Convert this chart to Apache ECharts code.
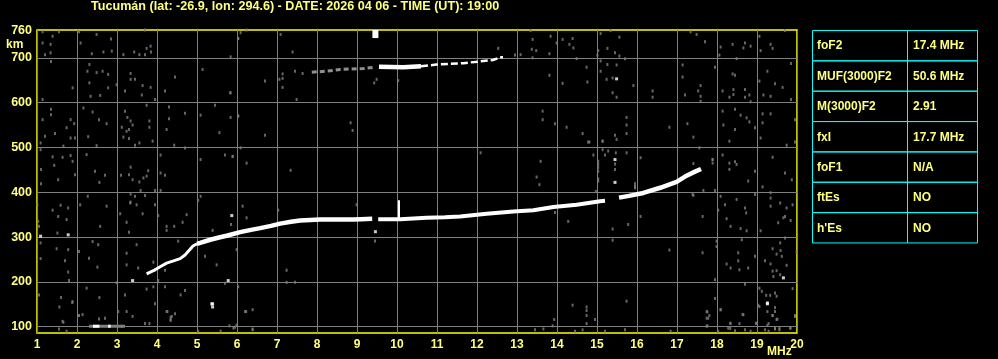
<!DOCTYPE html>
<html><head><meta charset="utf-8">
<script src="https://cdn.jsdelivr.net/npm/echarts@6/dist/echarts.min.js"></script>
<style>html,body{margin:0;padding:0;background:#000;}#c{width:998px;height:359px;}</style>
</head><body><div id="c"></div>
<script>
const titleText = 'Tucumán (lat: -26.9, lon: 294.6) - DATE: 2026 04 06 - TIME (UT): 19:00';
const heightLabels = [100, 200, 300, 400, 500, 600, 700, 760];
const heightGrid = [100, 200, 300, 400, 500, 600, 700];
const tableParams = ['foF2', 'MUF(3000)F2', 'M(3000)F2', 'fxI', 'foF1', 'ftEs', "h'Es"];
const tableValues = ['17.4 MHz', '50.6 MHz', '2.91', '17.7 MHz', 'N/A', 'NO', 'NO'];

// F2 trace (ordinary), in pieces
const traceA = [[3.74,218],[3.91,225],[4.1,235],[4.24,242],[4.45,248],[4.58,252],[4.7,260],[4.8,270],[4.9,280],[5.0,285]];
const traceB = [[5.0,285],[5.08,287],[5.33,294],[5.55,299],[5.74,303],[6.08,311],[6.35,316],[6.58,320],[6.85,325],[7.08,330],[7.35,334],[7.58,337],[8.08,339],[8.5,339],[8.9,339],[9.1,340],[9.38,341]];
const traceC = [[9.53,340],[10.08,340],[10.74,343],[11.2,344],[11.58,346],[12.24,352],[12.91,357],[13.41,360],[13.91,367],[14.49,372],[15.08,380],[15.2,381]];
const traceD = [[15.55,388],[15.8,392],[16.16,398.5],[16.58,410],[16.99,423],[17.24,437],[17.45,446],[17.6,452]];
// second hop trace
const hopGray = [[7.87,668],[8.24,670],[8.58,674],[9.16,676],[9.45,679]];
const hopWhite = [[9.55,680],[10.16,679],[10.6,681]];
const hopDash = [[10.6,681],[10.99,685],[11.66,688],[12.08,692],[12.4,695],[12.58,701],[12.65,701]];
// low echo near 100 km
const lowGray = [[2.3,101],[3.2,101]];
const lowWhite = [[2.4,101],[2.56,101],[2.78,101],[2.84,101]];
// vertical spike and blocks
const spike = [[10.05,340],[10.05,382]];
const topBlock = [[9.46,744],[9.46,762]];
const whiteDots = [[9.46,312],[1.09,302],[1.78,305],[3.39,203],[5.78,203],[5.37,151],[5.87,348],[15.45,473],[15.45,422],[15.49,653],[19.26,153],[19.66,209],[19.26,151],[5.39,151],[5.39,144]];
// gray noise points
const noiseGray = [
[1.14,758],[1.55,758],[1.39,748],[1.14,733],[1.34,730],[1.2,707],[1.34,711],[1.35,692],[2.05,758],[2.09,733],[2.49,752],[2.37,709],[2.66,713],[2.87,715],[2.85,742],
[2.31,685],[2.26,670],[2.49,667],[2.64,670],[2.78,663],[2.31,644],[2.78,633],[2.34,614],[2.58,616],[1.89,633],[1.14,607],[1.35,585],[1.14,562],[1.35,573],[1.84,562],
[1.93,553],[1.74,544],[1.2,525],[1.45,531],[1.84,521],[1.95,521],[1.09,510],[1.66,503],[2.16,588],[2.39,579],[2.55,562],[2.28,524],[2.49,504],[2.74,553],[1.09,495],
[1.39,479],[1.64,478],[1.84,482],[1.89,469],[1.43,460],[1.53,428],[1.95,439],[1.1,451],[1.1,419],[2.24,484],[2.45,447],[2.56,422],[2.7,438],[1.01,372],[1.59,371],
[1.39,360],[1.78,365],[1.74,339],[1.53,346],[1.03,335],[1.05,324],[1.51,309],[2.08,372],[2.27,391],[2.58,324],[2.74,369],[1.09,287],[1.49,274],[1.78,272],[1.09,252],
[1.7,247],[2.05,268],[2.39,290],[2.53,283],[2.3,253],[2.51,233],[1.78,222],[1.8,203],[1.05,171],[1.6,165],[1.88,154],[1.56,144],[2.05,125],[2.24,186],[2.56,165],
[1.66,110],[1.55,95],[1.74,90],[2.99,198],[2.03,125],[2.14,127],[1.64,112],[2.55,117],[2.7,119],[1.89,156],
[17.34,758],[17.49,752],[17.7,736],[18.09,724],[18.39,730],[18.66,722],[18.7,733],[18.84,726],[19.09,716],[19.34,730],[19.39,721],[19.7,761],[19.06,748],[18.06,706],
[18.49,698],[17.14,684],[17.95,679],[18.39,664],[18.45,661],[19.06,648],[19.26,670],[19.45,642],[19.64,634],[19.85,687],[17.14,657],[17.59,638],[17.53,626],[17.2,617],
[17.59,614],[18.14,626],[18.41,629],[18.31,612],[18.41,618],[18.7,629],[18.7,612],[18.81,617],[18.84,602],[19.16,617],[19.34,614],[19.85,607],[17.59,603],[18.14,581],
[18.45,585],[18.59,572],[18.74,566],[18.81,557],[19.14,575],[19.14,555],[19.34,575],[19.95,562],[17.26,553],[18.16,550],[18.45,540],[18.95,544],[17.41,523],[18.31,514],
[19.09,521],[19.74,505],[19.95,512],[17.56,499],[18.14,483],[18.31,465],[18.45,468],[18.49,462],[18.31,451],[17.89,473],[17.89,465],[18.95,447],[18.78,425],[19.39,478],
[19.7,443],[19.87,428],[19.14,412],[17.66,404],[17.95,404],[17.41,393],[18.09,391],[18.2,372],[18.49,384],[18.03,360],[18.7,365],[18.73,354],[18.95,395],[19.34,399],
[19.34,387],[19.34,369],[19.58,376],[19.74,365],[19.7,346],[19.84,337],[19.53,332],[19.89,372],[17.64,346],[18.24,341],[18.34,324],[18.59,319],[18.74,314],[19.09,314],
[19.66,343],[19.7,298],[18.62,294],[17.99,291],[17.99,279],[17.64,265],[18.53,265],[18.53,247],[18.95,257],[19.2,247],[19.34,240],[19.39,274],[19.49,262],[19.58,287],
[19.59,270],[19.62,257],[19.74,237],[19.39,224],[19.49,225],[19.58,216],[19.41,212],[19.99,267],[18.24,240],[18.34,231],[18.56,227],[18.78,231],[17.95,205],[18.7,195],
[19.06,186],[19.12,179],[19.23,170],[19.33,170],[19.45,175],[19.49,168],[19.89,185],[19.06,145],[19.45,143],[19.51,117],[19.39,125],[19.95,123],[18.64,127],[18.09,138],
[17.76,133],[17.78,119],[17.74,101],[18.33,108],[18.33,96],[18.7,93],[18.98,108],[19.26,103],[19.45,96],[19.56,96],[19.83,97],[18.45,91],[17.95,163],
[3.7,762],[3.84,726],[3.74,721],[3.43,713],[3.16,707],[3.56,707],[3.7,707],[3.85,713],[5.84,702],[6.03,743],[3.34,665],[3.34,652],[3.45,652],[3.64,638],[3.84,634],
[3.2,626],[3.62,617],[3.95,607],[4.2,626],[4.45,657],[5.14,674],[5.84,622],[2.99,640],[3.2,581],[3.74,594],[3.26,567],[3.34,559],[3.39,550],[3.81,559],[3.81,545],
[3.12,545],[3.24,536],[3.3,540],[3.16,523],[3.3,520],[3.56,510],[3.45,505],[3.89,514],[4.3,590],[4.3,564],[4.7,576],[4.24,540],[4.43,505],[4.7,499],[5.09,572],
[5.45,594],[5.56,533],[5.84,567],[6.03,570],[4.09,483],[5.09,473],[5.7,483],[5.89,480],[3.34,456],[3.78,448],[4.09,443],[4.2,438],[3.1,438],[3.3,439],[3.74,436],
[3.66,432],[3.39,428],[3.56,423],[3.59,404],[3.95,404],[4.09,404],[3.34,396],[3.7,393],[3.45,391],[5.09,391],[5.03,382],[3.34,378],
[6.09,756],[6.24,762],[6.03,743],[7.09,752],[7.39,713],[7.14,664],[7.14,654],[7.06,652],[7.14,634],[6.7,648],[7.45,670],[7.64,665],[7.49,607],[5.83,622],[6.03,570],
[6.7,527],[8.84,555],[8.89,538],[6.09,499],[5.89,480],[6.24,465],[7.34,449],[9.43,644],[9.49,652],[10.03,649],[12.53,721],[12.95,706],[13.09,707],[13.34,761],[13.39,741],
[13.48,716],[13.37,719],[13.39,700],[13.81,709],[13.84,748],[13.99,733],[14.14,741],[14.31,730],[14.39,743],[14.41,722],[14.49,698],[14.74,679],[15.09,754],[15.26,721],
[15.34,761],[15.56,746],[15.45,711],[15.56,704],[15.03,716],[15.01,706],[15.09,693],[15.26,685],[15.49,684],[15.7,698],[15.09,670],[15.24,652],[15.39,655],[15.49,612],
[15.39,622],[15.91,638],[16.39,626],[16.39,612],[14.76,646],[14.14,643],[13.81,661],[13.64,581],[13.64,562],[13.95,553],[14.24,545],[14.64,531],[14.78,512],[15.14,514],
[15.45,527],[15.49,518],[15.74,567],[15.74,550],[15.74,531],[16.81,545],[15.14,495],[15.28,492],[15.47,488],[15.74,488],[15.2,483],[14.91,483],[15.45,463],[15.45,451],
[15.03,469],[15.03,462],[15.03,455],[15.03,447],[16.09,477],[12.09,488],[13.59,469],[13.49,434],[15.03,430],
[3.33,376],[3.49,372],[3.95,372],[3.64,352],[4.03,348],[4.74,350],[3.08,352],[3.24,333],[4.24,324],[4.43,324],[4.64,333],[4.24,315],[3.3,311],[3.49,283],[3.24,264],
[3.24,238],[3.53,231],[3.91,244],[3.95,226],[4.53,291],[4.2,226],[5.2,257],[5.49,238],[5.39,315],[5.85,328],[5.99,272],[6.14,369],[6.24,343],[7.03,360],[4.03,203],
[4.2,189],[3.91,189],[3.74,184],[4.7,181],[4.59,171],[6.03,189],[5.7,197],[3.2,171],[3.95,151],[3.24,134],[3.39,123],[4.24,134],[4.37,123],[4.45,129],[4.34,116],
[6.23,134],[6.39,138],[3.12,101],[3.7,107],[3.81,107],[5.81,102],[5.95,99],[6.39,93],[5.03,90],[5.59,90],[7.24,226],[7.24,199],[7.45,199],[8.99,372],[4.26,134],
[4.34,121],[4.34,114],[3.03,134],[5.91,97],[5.99,104],[6.2,134],[6.39,95],
[14.39,148],[14.74,144],[14.74,136],[14.74,125],[14.74,107],[14.95,116],[14.64,93],[14.45,90],[13.93,116],[13.89,102],[13.66,95],[13.45,93],[15.2,90],[15.7,93],[15.74,157],
[16.84,90],[17.74,134],[17.81,125],[17.74,119],[17.76,102],[18.09,138],[18.03,90],[18.28,97],[18.34,107],[18.56,107],[18.66,127],[18.84,90],[18.98,107],[19.03,148],
[19.26,134],[19.45,134],[19.39,125],[19.49,116],[19.29,107],[19.2,93],[19.29,90],[19.45,95],[19.56,93],[19.84,97],[19.95,125],
[13.56,417],[15.03,425],[14.97,402],[15.95,419],[15.95,410],[17.39,395],[13.95,355],[14.28,335],[15.39,318],[15.78,328],[16.09,346],[15.39,293],[16.81,271],[9.45,291],
[14.81,512],[15.14,514],[15.95,413],[17.41,464],[17.89,473]
];

const FONT = 'Liberation Sans';
const TXT = '#ffff80';

function lineSeries(data, color, width, type, z) {
  return {
    type: 'line', data: data, showSymbol: false, symbol: 'none', animation: false, silent: true, z: z || 5,
    lineStyle: { color: color, width: width, type: type || 'solid', cap: 'butt' }
  };
}

const tableGraphics = [];
const tx = 812, ty = 30, c1 = 95, c2 = 70, rh = 30.35;
tableParams.forEach(function (p, i) {
  const y = ty + i * rh;
  tableGraphics.push({ type: 'rect', shape: { x: tx + 0.5, y: y + 0.5, width: c1, height: rh }, style: { fill: 'none', stroke: '#00ffff', lineWidth: 1 } });
  tableGraphics.push({ type: 'rect', shape: { x: tx + c1 + 0.5, y: y + 0.5, width: c2, height: rh }, style: { fill: 'none', stroke: '#00ffff', lineWidth: 1 } });
  tableGraphics.push({ type: 'text', x: tx + 5, y: y + rh / 2 + 1, style: { text: p, fill: TXT, font: 'bold 12px ' + FONT, textVerticalAlign: 'middle', verticalAlign: 'middle' } });
  tableGraphics.push({ type: 'text', x: tx + c1 + 6, y: y + rh / 2 + 1, style: { text: tableValues[i], fill: TXT, font: 'bold 12px ' + FONT, textVerticalAlign: 'middle', verticalAlign: 'middle' } });
});

const chart = echarts.init(document.getElementById('c'), null, { renderer: 'canvas' });
chart.setOption({
  backgroundColor: '#000',
  animation: false,
  grid: { left: 37, right: 201, top: 30, bottom: 26, show: true, borderColor: '#ffff00', borderWidth: 1.5, backgroundColor: 'transparent' },
  xAxis: {
    type: 'value', min: 1, max: 20, interval: 1,
    axisLine: { show: false }, axisTick: { show: false },
    splitLine: { show: true, lineStyle: { color: '#808080', width: 1 } },
    axisLabel: { color: TXT, fontFamily: FONT, fontWeight: 'bold', fontSize: 12, margin: 6, showMinLabel: true, showMaxLabel: true }
  },
  yAxis: {
    type: 'value', min: 86, max: 762,
    axisLine: { show: false }, axisTick: { show: false },
    splitLine: { show: false },
    axisLabel: { color: TXT, fontFamily: FONT, fontWeight: 'bold', fontSize: 12.5, margin: 5, customValues: heightLabels }
  },
  graphic: [
    { type: 'text', x: 91, y: 7, style: { text: titleText, fill: TXT, font: 'bold 12.6px ' + FONT, textVerticalAlign: 'middle', verticalAlign: 'middle' } },
    { type: 'text', x: 6, y: 45, style: { text: 'km', fill: TXT, font: 'bold 12px ' + FONT, textVerticalAlign: 'middle', verticalAlign: 'middle' } },
    { type: 'text', x: 767, y: 352, style: { text: 'MHz', fill: TXT, font: 'bold 12px ' + FONT, textVerticalAlign: 'middle', verticalAlign: 'middle' } }
  ].concat(tableGraphics),
  series: [
    { type: 'line', data: [], z: 1, silent: true,
      markLine: { silent: true, symbol: 'none', animation: false, label: { show: false },
        lineStyle: { color: '#808080', width: 1, type: 'solid' },
        data: heightGrid.map(function (h) { return { yAxis: h }; }) } },
    { type: 'scatter', data: noiseGray, symbol: 'rect', symbolSize: [2, 3], itemStyle: { color: '#808080' }, silent: true, z: 3 },
    lineSeries(traceA, '#ffffff', 3),
    lineSeries(traceB, '#ffffff', 4.5),
    lineSeries(traceC, '#ffffff', 4),
    lineSeries(traceD, '#ffffff', 4.5),
    lineSeries(hopGray, '#909090', 3, [5, 3]),
    lineSeries(hopWhite, '#ffffff', 4.5),
    lineSeries(hopDash, '#ffffff', 2.5, [7, 3]),
    lineSeries(lowGray, '#808080', 3),
    lineSeries(lowWhite.slice(0, 2), '#ffffff', 3),
    lineSeries(lowWhite.slice(2), '#ffffff', 3),
    lineSeries(spike, '#ffffff', 2),
    lineSeries(topBlock, '#ffffff', 6),
    { type: 'scatter', data: whiteDots, symbol: 'rect', symbolSize: [3, 3], itemStyle: { color: '#ffffff' }, silent: true, z: 6 }
  ]
});
</script></body></html>
